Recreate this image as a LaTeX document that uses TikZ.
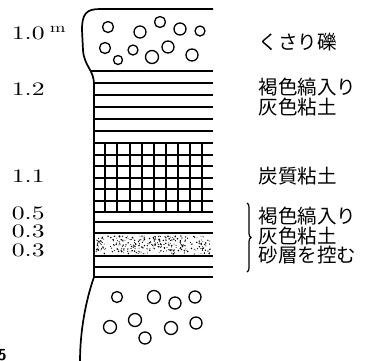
\documentclass[tikz,border=0pt]{standalone}
\usepackage{fontspec}
\newfontfamily\jp{Noto Sans CJK JP}
\newfontfamily\numfont{lmroman10-regular.otf}[FakeStretch=1.35]
\usetikzlibrary{decorations.pathreplacing}

\begin{document}
\begin{tikzpicture}[x=1pt,y=-1pt,line width=1.7pt,
  depth/.style={anchor=west,inner sep=0pt,font=\numfont\fontsize{19}{19}\selectfont},
  layer/.style={anchor=west,inner sep=0pt,align=left,font=\jp\fontsize{19.5}{19.5}\selectfont},
  pebble/.style={line width=1.3pt}]
\useasboundingbox (0,0) rectangle (365,360);
%Outline of the column
\draw (213,9) -- (100,9) .. controls (86,9) and (82,14) .. (82,30)
  -- (83,50) .. controls (84,66) and (94,70) .. (94,84) -- (94,277)
  .. controls (86,300) and (80,330) .. (80,362);
%Layer boundaries and stripes
\draw (90,71) -- (213,71);
\foreach \y in {83,95,107,119,131,143,155,166,178,189,201,212,222,233,256,267,277}
   \draw (94,\y) -- (213,\y);
%Grid of the carbonaceous clay
\foreach \x in {105,117,130,142,154,166,178,190,202}
   \draw[line width=1.4pt] (\x,143) -- (\x,212);
%Sand band
\pgfmathsetseed{11}
\foreach \i in {1,...,300}{
   \pgfmathsetmacro\px{96+115*rnd}
   \pgfmathsetmacro\py{236+18*rnd}
   \pgfmathsetmacro\pr{0.4+0.5*rnd}
   \fill (\px,\py) circle[radius=\pr];
}
%Gravel above
\foreach \x/\y/\r in {108/27/5.5,140/32/6,160/22/5.5,180/29/6,200/31/5,
   105/48/5.5,118/60/4.5,133/50/5,152/57/6.5,168/47/6,192/55/6}
   \draw[pebble] (\x,\y) circle[radius=\r];
%Gravel below
\foreach \x/\y/\r in {117/297/5.5,154/297/6.5,175/303/6,195/297/6,
   110/327/6.5,135/320/6.5,145/338/6,171/328/6.5,196/323/6}
   \draw[pebble] (\x,\y) circle[radius=\r];
%Thicknesses
\node[depth] (d1) at (11,33) {1.0};
\node[anchor=west,inner sep=0pt,font=\numfont\fontsize{14}{14}\selectfont] (unit) at (49,29) {m};
\node[depth] (d2) at (11,89) {1.2};
\node[depth] (d3) at (11,176) {1.1};
\node[depth] (d4) at (11,213) {0.5};
\node[depth] (d5) at (11,231) {0.3};
\node[depth] (d6) at (11,250) {0.3};
%Descriptions
\node[layer] (gravel) at (258,42) {くさり礫};
\node[layer] (clay) at (258,97) {褐色縞入り\\灰色粘土};
\node[layer] (coal) at (258,176) {炭質粘土};
\node[layer] (sandy) at (258,236) {褐色縞入り\\灰色粘土\\砂層を控む};
\coordinate (btop) at (247,203);
\coordinate (bbot) at (247,272);
\draw[line width=1.2pt,decorate,decoration={brace,amplitude=4pt}] (btop) -- (bbot);
\node[anchor=north west,inner sep=0pt,font=\sffamily\bfseries\fontsize{16}{16}\selectfont] (fig) at (-3,349) {5};
\end{tikzpicture}
\end{document}
